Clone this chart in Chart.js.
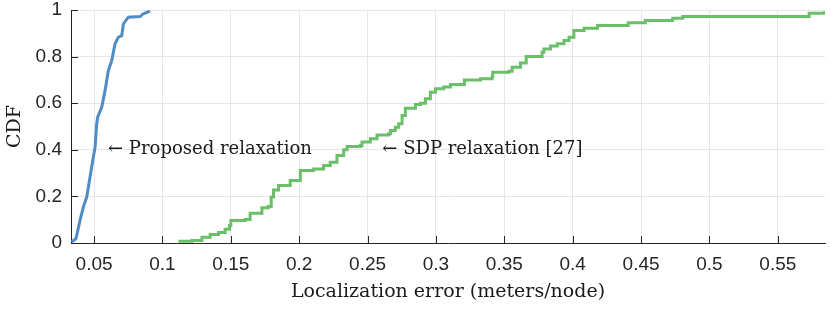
<!DOCTYPE html>
<html>
<head>
<meta charset="utf-8">
<script src="https://cdn.jsdelivr.net/npm/chart.js@4/dist/chart.umd.min.js"></script>
<style>
  body { margin: 0; background: #fff; }
  canvas { display: block; }
</style>
</head>
<body>
<canvas id="myChart" width="830" height="309"></canvas>
<script>
// CDF curves
const proposedX = [0.0336, 0.0367, 0.0397, 0.0421, 0.0446, 0.0470, 0.0494, 0.0507, 0.0519, 0.0526,
                   0.0556, 0.0580, 0.0604, 0.0629, 0.0653, 0.0677, 0.0702, 0.0714, 0.0750, 0.0836,
                   0.0860, 0.0909];
const proposedY = [0.005, 0.018, 0.097, 0.154, 0.197, 0.282, 0.368, 0.411, 0.512, 0.540,
                   0.583, 0.654, 0.740, 0.783, 0.855, 0.883, 0.890, 0.940, 0.969, 0.972,
                   0.984, 0.995];

const sdpX = [0.1117, 0.1215, 0.1288, 0.1349, 0.1410, 0.1458, 0.1490, 0.1500, 0.1605, 0.1641,
              0.1727, 0.1775, 0.1795, 0.1812, 0.1849, 0.1934, 0.2008, 0.2105, 0.2178, 0.2227,
              0.2276, 0.2325, 0.2350, 0.2447, 0.2459, 0.2520, 0.2569, 0.2654, 0.2667, 0.2703,
              0.2727, 0.2752, 0.2776, 0.2850, 0.2886, 0.2923, 0.2959, 0.2996, 0.3057, 0.3106,
              0.3208, 0.3325, 0.3411, 0.3415, 0.3533, 0.3557, 0.3618, 0.3660, 0.3776, 0.3789,
              0.3838, 0.3887, 0.3936, 0.3973, 0.4009, 0.4083, 0.4181, 0.4406, 0.4531, 0.4731,
              0.4805, 0.5729, 0.5840];
const sdpY = [0.008, 0.011, 0.025, 0.036, 0.045, 0.059, 0.075, 0.097, 0.101, 0.128,
              0.151, 0.157, 0.197, 0.228, 0.247, 0.268, 0.311, 0.318, 0.333, 0.347,
              0.376, 0.400, 0.414, 0.418, 0.433, 0.447, 0.464, 0.469, 0.483, 0.497,
              0.512, 0.547, 0.578, 0.594, 0.600, 0.619, 0.647, 0.662, 0.669, 0.680,
              0.700, 0.705, 0.715, 0.733, 0.737, 0.754, 0.772, 0.800, 0.819, 0.833,
              0.845, 0.855, 0.869, 0.883, 0.912, 0.922, 0.933, 0.945, 0.955, 0.965,
              0.972, 0.986, 0.995];

const xTicks = [0.05, 0.1, 0.15, 0.2, 0.25, 0.3, 0.35, 0.4, 0.45, 0.5, 0.55];
const yTicks = [0, 0.2, 0.4, 0.6, 0.8, 1];
const xMin = 0.0331, xMax = 0.5845;

const notes = ['\u2190 Proposed relaxation', '\u2190 SDP relaxation [27]'];
const noteX = [0.0602, 0.2608];
const noteY = [0.4, 0.4];

const toPoints = function (xs, ys) {
    return xs.map((x, i) => ({ x: x, y: ys[i] }));
};

// inward tick marks + text labels on the plot
const extras = {
    id: 'extras',
    afterDraw(chart) {
        const ctx = chart.ctx;
        const xs = chart.scales.x, ys = chart.scales.y;
        const a = chart.chartArea;
        ctx.save();
        ctx.strokeStyle = '#262626';
        ctx.lineWidth = 1;
        ctx.beginPath();
        for (const v of xTicks) {
            const px = Math.round(xs.getPixelForValue(v)) + 0.5;
            ctx.moveTo(px, a.bottom);
            ctx.lineTo(px, a.bottom - 7);
        }
        for (const v of yTicks) {
            const py = Math.round(ys.getPixelForValue(v)) + 0.5;
            ctx.moveTo(a.left, py);
            ctx.lineTo(a.left + 7, py);
        }
        ctx.stroke();

        ctx.fillStyle = '#1a1a1a';
        ctx.font = '18px "DejaVu Serif"';
        ctx.textBaseline = 'middle';
        ctx.textAlign = 'left';
        notes.forEach((t, i) => {
            ctx.fillText(t, xs.getPixelForValue(noteX[i]), ys.getPixelForValue(noteY[i]));
        });
        ctx.restore();
    }
};

const drawChart = function () {
    let ctx = document.getElementById('myChart').getContext('2d');

    new Chart(ctx, {
        type: 'line',
        data: {
            datasets: [
                {
                    label: 'Proposed relaxation',
                    data: toPoints(proposedX, proposedY),
                    borderColor: '#4f8bc5',
                    borderWidth: 3,
                    pointRadius: 0,
                    fill: false
                },
                {
                    label: 'SDP relaxation [27]',
                    data: toPoints(sdpX, sdpY),
                    borderColor: '#6cbf69',
                    borderWidth: 3,
                    pointRadius: 0,
                    stepped: true,
                    fill: false
                }
            ]
        },
        options: {
            responsive: false,
            animation: false,
            layout: { padding: { left: 0, right: 5, top: 0, bottom: 0 } },
            plugins: {
                legend: { display: false },
                tooltip: { enabled: false }
            },
            scales: {
                x: {
                    type: 'linear',
                    min: xMin,
                    max: xMax,
                    afterBuildTicks: function (scale) {
                        scale.ticks = xTicks.map(v => ({ value: v }));
                    },
                    afterFit: function (scale) { scale.height = 66; },
                    grid: { color: '#e6e6e6', drawTicks: false },
                    border: { display: true, color: '#262626', width: 1 },
                    ticks: {
                        padding: 12,
                        color: '#262626',
                        font: { family: '"Liberation Sans"', size: 19, lineHeight: 1 },
                        maxRotation: 0,
                        autoSkip: false,
                        callback: v => String(v)
                    },
                    title: {
                        display: true,
                        text: 'Localization error (meters/node)',
                        color: '#1a1a1a',
                        font: { family: '"DejaVu Serif"', size: 19, lineHeight: 1.2 },
                        padding: { top: 0, bottom: 6 }
                    }
                },
                y: {
                    min: 0,
                    max: 1,
                    afterBuildTicks: function (scale) {
                        scale.ticks = yTicks.map(v => ({ value: v }));
                    },
                    afterFit: function (scale) {
                        scale.width = 71;
                        scale.paddingTop = 10;
                        scale.paddingBottom = 0;
                    },
                    grid: { color: '#e6e6e6', drawTicks: false },
                    border: { display: true, color: '#262626', width: 1 },
                    ticks: {
                        padding: 9,
                        color: '#262626',
                        font: { family: '"Liberation Sans"', size: 19, lineHeight: 1 },
                        callback: v => String(v)
                    },
                    title: {
                        display: true,
                        text: 'CDF',
                        color: '#1a1a1a',
                        font: { family: '"DejaVu Serif"', size: 19, lineHeight: 1.2 },
                        padding: { top: 4, bottom: 0 }
                    }
                }
            }
        },
        plugins: [extras]
    });
};

document.addEventListener('DOMContentLoaded', function () {
    drawChart();
});
</script>
</body>
</html>
